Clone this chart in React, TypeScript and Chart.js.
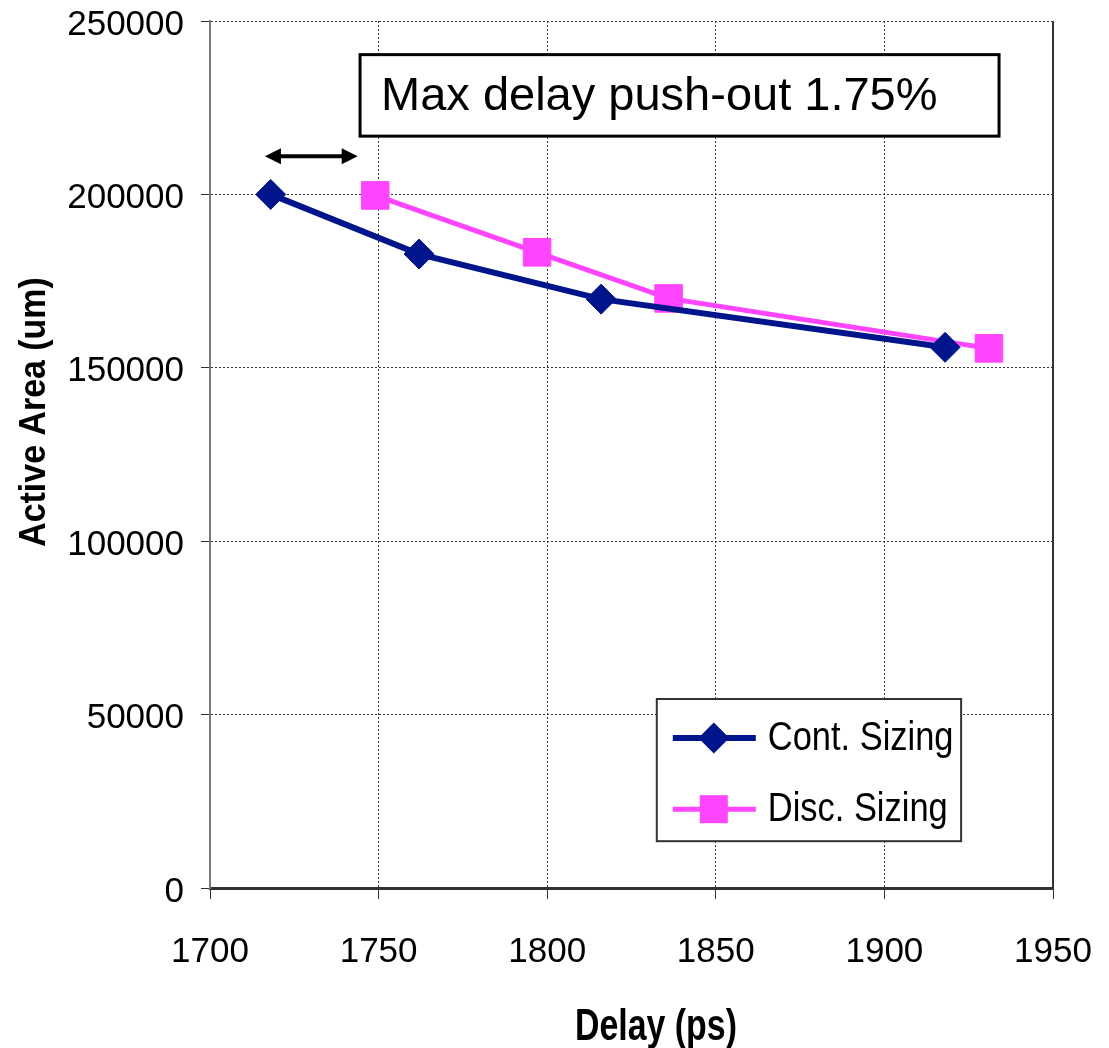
import React, { useEffect, useRef } from "react";
import { Chart, registerables } from "chart.js";

Chart.register(...registerables);

const contDelay = [1718, 1762, 1816, 1918];
const contArea = [200000, 182800, 169800, 155900];
const discDelay = [1749, 1797, 1836, 1931];
const discArea = [199700, 183300, 170000, 155600];

const xTicks = [1700, 1750, 1800, 1850, 1900, 1950];
const yTicks = [0, 50000, 100000, 150000, 200000, 250000];

const seriesNames = ["Cont. Sizing", "Disc. Sizing"];
const xTitle = "Delay (ps)";
const yTitle = "Active Area (um)";
const annotationText = "Max delay push-out 1.75%";

const FONT = "'Liberation Sans', Arial, sans-serif";
const NAVY = "#00148C";
const PINK = "#FF45FF";

function condensedText(
  ctx: CanvasRenderingContext2D,
  text: string,
  x: number,
  y: number,
  font: string,
  sx: number,
  rot: number,
  align: CanvasTextAlign
) {
  ctx.save();
  ctx.translate(x, y);
  ctx.rotate(rot);
  ctx.scale(sx, 1);
  ctx.font = font;
  ctx.fillStyle = "#000";
  ctx.textAlign = align;
  ctx.textBaseline = "alphabetic";
  ctx.fillText(text, 0, 0);
  ctx.restore();
}

const overlayPlugin = {
  id: "overlay",
  afterDraw(chart: any) {
    const { ctx, chartArea, scales } = chart;
    const xs = scales.x;
    const ys = scales.y;
    const w = chartArea.right - chartArea.left;
    const h = chartArea.bottom - chartArea.top;
    ctx.save();
    // right frame edge
    ctx.strokeStyle = "#333";
    ctx.lineWidth = 2;
    ctx.beginPath();
    ctx.moveTo(chartArea.right, chartArea.top);
    ctx.lineTo(chartArea.right, chartArea.bottom);
    ctx.stroke();

    // axis titles (condensed bold)
    condensedText(ctx, xTitle, chartArea.left + 0.529 * w, chartArea.bottom + 152, `bold 44px ${FONT}`, 0.77, 0, "center");
    condensedText(ctx, yTitle, chartArea.left - 165, chartArea.top + 0.451 * h, `bold 37.7px ${FONT}`, 0.9, -Math.PI / 2, "center");

    // annotation box
    const bx1 = xs.getPixelForValue(1744.5);
    const bx2 = xs.getPixelForValue(1934);
    const by1 = ys.getPixelForValue(240300);
    const by2 = ys.getPixelForValue(216800);
    ctx.fillStyle = "#fff";
    ctx.fillRect(bx1, by1, bx2 - bx1, by2 - by1);
    ctx.strokeStyle = "#000";
    ctx.lineWidth = 3;
    ctx.strokeRect(bx1, by1, bx2 - bx1, by2 - by1);
    ctx.fillStyle = "#000";
    ctx.font = `47px ${FONT}`;
    ctx.textBaseline = "middle";
    ctx.textAlign = "left";
    ctx.fillText(annotationText, bx1 + 21, (by1 + by2) / 2 + 2);

    // double arrow
    const ax1 = xs.getPixelForValue(1716.3);
    const ax2 = xs.getPixelForValue(1743.8);
    const ay = ys.getPixelForValue(211000);
    ctx.strokeStyle = "#000";
    ctx.lineWidth = 4;
    ctx.beginPath();
    ctx.moveTo(ax1 + 8, ay);
    ctx.lineTo(ax2 - 8, ay);
    ctx.stroke();
    ctx.beginPath();
    ctx.moveTo(ax1, ay);
    ctx.lineTo(ax1 + 16, ay - 8);
    ctx.lineTo(ax1 + 16, ay + 8);
    ctx.closePath();
    ctx.fill();
    ctx.beginPath();
    ctx.moveTo(ax2, ay);
    ctx.lineTo(ax2 - 16, ay - 8);
    ctx.lineTo(ax2 - 16, ay + 8);
    ctx.closePath();
    ctx.fill();

    // legend
    const lx1 = chartArea.left + 0.53 * w;
    const lx2 = chartArea.left + 0.891 * w;
    const ly1 = chartArea.top + 0.782 * h;
    const ly2 = chartArea.top + 0.946 * h;
    ctx.fillStyle = "#fff";
    ctx.fillRect(lx1, ly1, lx2 - lx1, ly2 - ly1);
    ctx.strokeStyle = "#333";
    ctx.lineWidth = 2;
    ctx.strokeRect(lx1, ly1, lx2 - lx1, ly2 - ly1);
    const rowH = (ly2 - ly1) / 2;
    chart.data.datasets.forEach((ds: any, i: number) => {
      const cy = ly1 + rowH * (i + 0.55);
      ctx.strokeStyle = ds.borderColor;
      ctx.lineWidth = ds.borderWidth;
      ctx.beginPath();
      ctx.moveTo(lx1 + 16, cy);
      ctx.lineTo(lx1 + 99, cy);
      ctx.stroke();
      ctx.fillStyle = ds.pointBackgroundColor;
      const mx = lx1 + 57;
      if (ds.pointStyle === "rectRot") {
        const r = 15.5;
        ctx.beginPath();
        ctx.moveTo(mx - r, cy);
        ctx.lineTo(mx, cy - r);
        ctx.lineTo(mx + r, cy);
        ctx.lineTo(mx, cy + r);
        ctx.closePath();
        ctx.fill();
      } else {
        const s = 14;
        ctx.fillRect(mx - s, cy - s, 2 * s, 2 * s);
      }
      condensedText(ctx, ds.label, lx1 + 111, cy + 12, `41px ${FONT}`, 0.84, 0, "left");
    });
    ctx.restore();
  },
};

export default function App() {
  const ref = useRef<HTMLCanvasElement>(null);
  useEffect(() => {
    document.body.style.margin = "0";
    const chart = new Chart(ref.current!, {
      type: "line",
      data: {
        datasets: [
          {
            label: seriesNames[0],
            data: contDelay.map((x, i) => ({ x, y: contArea[i] })),
            borderColor: NAVY,
            backgroundColor: NAVY,
            pointBackgroundColor: NAVY,
            pointBorderColor: NAVY,
            borderWidth: 6,
            pointStyle: "rectRot",
            pointRadius: 15,
            pointBorderWidth: 1,
            tension: 0,
          },
          {
            label: seriesNames[1],
            data: discDelay.map((x, i) => ({ x, y: discArea[i] })),
            borderColor: PINK,
            backgroundColor: PINK,
            pointBackgroundColor: PINK,
            pointBorderColor: PINK,
            borderWidth: 5,
            pointStyle: "rect",
            pointRadius: 19.5,
            pointBorderWidth: 1,
            tension: 0,
          },
        ],
      },
      options: {
        animation: false,
        responsive: false,
        maintainAspectRatio: false,
        layout: { padding: { top: 21, right: 56, left: 0, bottom: 0 } },
        plugins: { legend: { display: false }, tooltip: { enabled: false } },
        scales: {
          x: {
            type: "linear",
            min: xTicks[0],
            max: xTicks[xTicks.length - 1],
            afterBuildTicks: (s: any) => {
              s.ticks = xTicks.map((v) => ({ value: v }));
            },
            afterFit: (s: any) => {
              s.height = 160;
              s.paddingLeft = 0;
              s.paddingRight = 0;
            },
            ticks: {
              color: "#000",
              font: { family: FONT, size: 35 },
              padding: 32,
              maxRotation: 0,
              callback: (v: any) => String(v),
            },
            grid: {
              color: "#333",
              lineWidth: 1,
              tickLength: 11,
              tickColor: "#333",
              tickBorderDash: [],
            },
            border: { display: true, color: "#333", width: 3, dash: [2, 2] },
            title: { display: false, text: xTitle },
          },
          y: {
            type: "linear",
            min: yTicks[0],
            max: yTicks[yTicks.length - 1],
            afterBuildTicks: (s: any) => {
              s.ticks = yTicks.map((v) => ({ value: v }));
            },
            afterFit: (s: any) => {
              s.width = 210;
              s.paddingTop = 0;
              s.paddingBottom = 0;
            },
            ticks: {
              color: "#000",
              font: { family: FONT, size: 35 },
              padding: 17,
              labelOffset: 4,
              callback: (v: any) => String(v),
            },
            grid: {
              color: "#333",
              lineWidth: 1,
              tickLength: 9,
              tickColor: "#333",
              tickBorderDash: [],
            },
            border: { display: true, color: "#777", width: 2, dash: [2, 2] },
            title: { display: false, text: yTitle },
          },
        },
      },
      plugins: [overlayPlugin],
    });
    return () => chart.destroy();
  }, []);
  return (
    <div style={{ width: 1109, height: 1048 }}>
      <canvas ref={ref} width={1109} height={1048} style={{ width: 1109, height: 1048 }} />
    </div>
  );
}
